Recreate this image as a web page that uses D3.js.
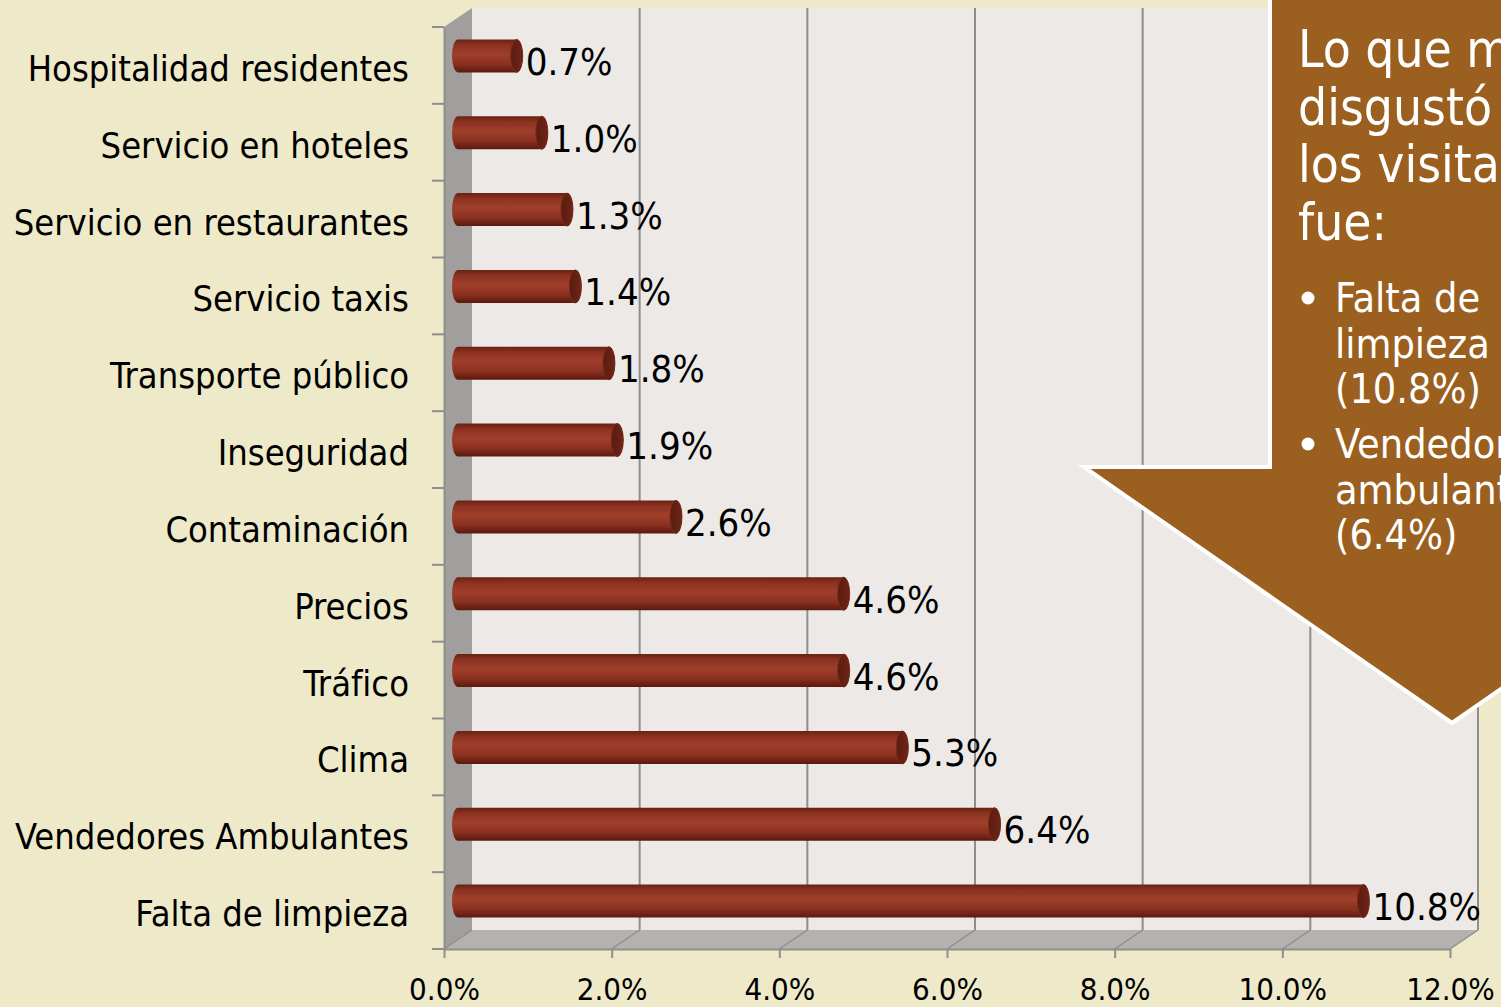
<!DOCTYPE html>
<html lang="es">
<head>
<meta charset="UTF-8">
<title>Lo que más disgustó</title>
<script src="https://cdn.jsdelivr.net/npm/d3@7"></script>
<style>
  html, body { margin: 0; padding: 0; background: #eeeac9; overflow: hidden; }
  svg text { font-family: "DejaVu Sans Condensed", "DejaVu Sans", sans-serif; font-stretch: condensed; }
</style>
</head>
<body>
<div id="chart"></div>
<script>
// data
var categories = ["Hospitalidad residentes", "Servicio en hoteles", "Servicio en restaurantes",
    "Servicio taxis", "Transporte público", "Inseguridad", "Contaminación", "Precios",
    "Tráfico", "Clima", "Vendedores Ambulantes", "Falta de limpieza"];
var values = [0.7, 1.0, 1.3, 1.4, 1.8, 1.9, 2.6, 4.6, 4.6, 5.3, 6.4, 10.8];
var tickValues = [0, 2, 4, 6, 8, 10, 12];
var calloutTitle = ["Lo que más les", "disgustó a", "los visitantes", "fue:"];
var calloutBullets = [["Falta de", "limpieza", "(10.8%)"], ["Vendedores", "ambulantes", "(6.4%)"]];

var W = 1501, H = 1007;
var depthX = 28, depthY = -19;

var svg = d3.select("#chart").append("svg")
    .attr("width", W)
    .attr("height", H);

var x = d3.scaleLinear().domain([0, 12]).range([444, 1450]);
var y = d3.scaleBand().domain(categories).range([27, 949]);

var x0 = x(0), x1 = x(12), yTop = y.range()[0], yBot = y.range()[1];

// walls
svg.append("rect")
    .attr("x", x0 + depthX).attr("y", yTop + depthY)
    .attr("width", x1 - x0).attr("height", yBot - yTop)
    .attr("fill", "#ece9e7");

svg.append("polygon")
    .attr("points", [[x0, yTop], [x0 + depthX, yTop + depthY], [x0 + depthX, yBot + depthY], [x0, yBot]].join(" "))
    .attr("fill", "#a19f9d");

svg.append("polygon")
    .attr("points", [[x0, yBot], [x0 + depthX, yBot + depthY], [x1 + depthX, yBot + depthY], [x1, yBot]].join(" "))
    .attr("fill", "#b4b2b0");

// gridlines on back wall and floor
svg.selectAll(".grid")
    .data(tickValues.slice(1))
    .enter()
    .append("line")
    .attr("class", "grid")
    .attr("x1", function(d){ return x(d) + depthX; })
    .attr("x2", function(d){ return x(d) + depthX; })
    .attr("y1", yTop + depthY)
    .attr("y2", yBot + depthY)
    .attr("stroke", "#8e8e8e")
    .attr("stroke-width", 2);

svg.selectAll(".floorgrid")
    .data(tickValues)
    .enter()
    .append("line")
    .attr("class", "floorgrid")
    .attr("x1", function(d){ return x(d) + depthX; })
    .attr("x2", function(d){ return x(d); })
    .attr("y1", yBot + depthY)
    .attr("y2", yBot)
    .attr("stroke", "#8e8e8e")
    .attr("stroke-width", 1.5);

// axes
var xAxis = d3.axisBottom(x)
    .tickValues(tickValues)
    .tickSize(9)
    .tickSizeOuter(0)
    .tickPadding(20)
    .tickFormat(function(d){ return d3.format(".1f")(d) + "%"; });

var gx = svg.append("g")
    .attr("transform", "translate(0," + yBot + ")")
    .call(xAxis);
gx.select(".domain").attr("stroke", "#8e8e8e").attr("stroke-width", 2);
gx.selectAll(".tick line").attr("stroke", "#8e8e8e").attr("stroke-width", 2);
gx.selectAll(".tick text")
    .attr("fill", "#000")
    .style("font-size", "31px");

var yAxis = d3.axisLeft(y).tickSize(0).tickPadding(35);
var gy = svg.append("g")
    .attr("transform", "translate(" + x0 + ",0)")
    .call(yAxis);
gy.select(".domain").attr("stroke", "#8e8e8e").attr("stroke-width", 2);
gy.selectAll(".tick text")
    .attr("fill", "#000")
    .attr("dy", "0.43em")
    .style("font-size", "36px");

// band boundary ticks
var bounds = categories.map(function(c){ return y(c); }).concat([yBot]);
gy.selectAll(".btick")
    .data(bounds)
    .enter()
    .append("line")
    .attr("class", "btick")
    .attr("x1", -12).attr("x2", 0)
    .attr("y1", function(d){ return d; })
    .attr("y2", function(d){ return d; })
    .attr("stroke", "#8e8e8e")
    .attr("stroke-width", 2);

// cylinder bars
var defs = svg.append("defs");
var grad = defs.append("linearGradient")
    .attr("id", "cyl")
    .attr("x1", 0).attr("y1", 0).attr("x2", 0).attr("y2", 1);
grad.append("stop").attr("offset", "0%").attr("stop-color", "#6a2113");
grad.append("stop").attr("offset", "18%").attr("stop-color", "#8e3321");
grad.append("stop").attr("offset", "45%").attr("stop-color", "#9f3f2b");
grad.append("stop").attr("offset", "75%").attr("stop-color", "#8a3020");
grad.append("stop").attr("offset", "100%").attr("stop-color", "#5a190d");

var capGrad = defs.append("linearGradient")
    .attr("id", "cap")
    .attr("x1", 0).attr("y1", 0).attr("x2", 1).attr("y2", 0);
capGrad.append("stop").attr("offset", "0%").attr("stop-color", "#5a1c10");
capGrad.append("stop").attr("offset", "100%").attr("stop-color", "#6e2516");

var barH = 33, capRx = 6;
var bars = svg.selectAll(".bar")
    .data(values)
    .enter()
    .append("g")
    .attr("class", "bar")
    .attr("transform", function(d, i){
        var cy = y(categories[i]) + y.bandwidth() / 2 + depthY / 2;
        return "translate(" + (depthX / 2) + "," + cy + ")";
    });

bars.append("path")
    .attr("d", function(d){
        var a = x0, b = x(d), r = barH / 2;
        return "M" + b + "," + (-r) +
            " L" + a + "," + (-r) +
            " A" + capRx + "," + r + " 0 0 0 " + a + "," + r +
            " L" + b + "," + r +
            " A" + capRx + "," + r + " 0 0 0 " + b + "," + (-r) + " Z";
    })
    .attr("fill", "url(#cyl)");

bars.append("ellipse")
    .attr("cx", function(d){ return x(d); })
    .attr("cy", 0)
    .attr("rx", capRx)
    .attr("ry", barH / 2)
    .attr("fill", "url(#cap)")
    .attr("stroke", "#7a2a1a")
    .attr("stroke-width", 1);

bars.append("text")
    .attr("x", function(d){ return x(d) + capRx + 3; })
    .attr("y", 19)
    .attr("fill", "#000")
    .style("font-size", "38px")
    .text(function(d){ return d.toFixed(1) + "%"; });

// callout arrow
var tipX = 1452, tipY = 723, shoulderY = 467, halfHead = 368, halfStem = 182;
var arrowPts = [[tipX - halfStem, -10], [tipX - halfStem, shoulderY], [tipX - halfHead, shoulderY],
    [tipX, tipY], [tipX + halfHead, shoulderY], [tipX + halfStem, shoulderY], [tipX + halfStem, -10]];
svg.append("polygon")
    .attr("points", arrowPts.join(" "))
    .attr("fill", "#9b601f")
    .attr("stroke", "#ffffff")
    .attr("stroke-width", 4);

var callout = svg.append("g").attr("fill", "#ffffff");
callout.selectAll(".title")
    .data(calloutTitle)
    .enter()
    .append("text")
    .attr("class", "title")
    .attr("x", 1298)
    .attr("y", function(d, i){ return 67 + i * 57.7; })
    .style("font-size", "51px")
    .text(function(d){ return d; });

var bulletBase = [312, 458];
calloutBullets.forEach(function(lines, k){
    callout.append("circle")
        .attr("cx", 1308)
        .attr("cy", bulletBase[k] - 14)
        .attr("r", 6.5);
    callout.selectAll(".b" + k)
        .data(lines)
        .enter()
        .append("text")
        .attr("class", "b" + k)
        .attr("x", 1335)
        .attr("y", function(d, i){ return bulletBase[k] + i * 45.5; })
        .style("font-size", "41px")
        .text(function(d){ return d; });
});
</script>
</body>
</html>
